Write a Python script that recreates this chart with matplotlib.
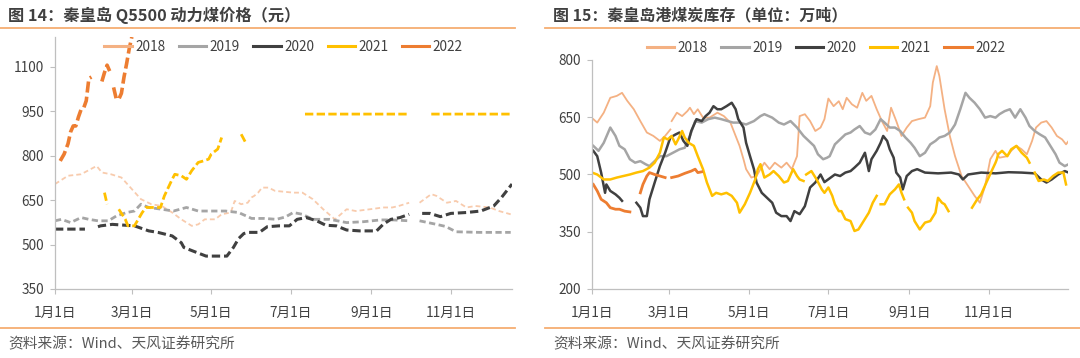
import numpy as np
import matplotlib
matplotlib.use('Agg')
import matplotlib.pyplot as plt
from matplotlib.lines import Line2D

nan = np.nan

# ---------------- data ----------------
years = ['2018', '2019', '2020', '2021', '2022']
month_ticks = [0, 59, 120, 181, 243, 304]
month_labels = ['1月1日', '3月1日', '5月1日', '7月1日', '9月1日', '11月1日']
left_yticks = [350, 500, 650, 800, 950, 1100]
right_yticks = [200, 350, 500, 650, 800]

# Left: Qinhuangdao Q5500 thermal coal price (day of year, yuan)
L2018_x = [0, 10, 20, 32, 36, 43, 51, 58, 66, 74, 82, 90, 97, 105, 110, 115, 123, 128, 135, 138,
           143, 148, 151, 153, 156, 159, 164, 169, 176, 183, 190, 198, 206, 215, 224, 231, 242, 252, 259, 264,
           272, 273, 280, 289, 293, 301, 308, 316, 323, 334, 341, 350]
L2018_y = [704, 732, 737, 765, 743, 737, 726, 692, 653, 636, 630, 608, 585, 563, 568, 585, 585, 602, 608, 647,
           636, 641, 659, 664, 675, 692, 692, 681, 678, 675, 675, 653, 619, 585, 619, 613, 619, 625, 625, 630,
           641, nan, 641, 670, 664, 641, 647, 625, 630, 625, 613, 602]
L2019_x = [0, 5, 12, 20, 26, 33, 41, 47, 55, 61, 66, 72, 82, 91, 101, 110, 120, 131, 141, 151,
           161, 170, 177, 183, 190, 198, 211, 224, 237, 250, 260, 272, 273, 280, 293, 300, 308, 326, 350]
L2019_y = [580, 585, 574, 591, 585, 580, 580, 596, 608, 613, 636, 625, 619, 613, 625, 613, 613, 613, 608, 588,
           588, 585, 593, 608, 602, 585, 585, 574, 577, 583, 583, 580, nan, 580, 568, 561, 543, 541, 541]
L2020_x = [0, 23, 24, 33, 35, 44, 61, 72, 79, 90, 97, 99, 106, 116, 132, 137, 141, 145, 148, 157,
           163, 172, 180, 186, 193, 201, 208, 216, 224, 234, 247, 252, 258, 265, 272, 273, 282, 288, 296, 304,
           316, 327, 337, 343, 351]
L2020_y = [552, 552, nan, 560, 563, 568, 563, 546, 541, 529, 506, 490, 478, 461, 461, 490, 520, 537, 541, 541,
           560, 563, 563, 585, 591, 580, 565, 563, 549, 546, 546, 568, 585, 591, 602, nan, 605, 605, 594, 605,
           608, 613, 630, 659, 704]
L2021_x = [38, 40, 41, 49, 54, 56, 61, 67, 70, 81, 84, 90, 92, 97, 101, 105, 110, 114, 118, 120,
           125, 128, 129, 143, 147, 148, 192, 272, 273, 289, 353]
L2021_y = [675, 636, nan, 619, 585, 563, 563, 608, 625, 625, 664, 720, 737, 732, 720, 749, 777, 782, 788, 805,
           822, 861, nan, 872, 839, nan, 940, 940, nan, 940, 940]
L2022_x = [4, 7, 10, 12, 14, 16, 18, 20, 22, 24, 26, 28, 30, 36, 38, 40, 42, 43, 45, 47,
           49, 51, 53, 55, 57, 59]
L2022_y = [782, 805, 840, 880, 900, 900, 930, 955, 960, 985, 1060, 1065, nan, 1050, 1080, 1105, 1085, nan, 1030, 992,
           990, 1010, 1065, 1110, 1160, 1200]

# Right: Qinhuangdao port coal stock (day of year, 10k tonnes)
R2018_x = [1, 4, 9, 14, 19, 23, 27, 32, 37, 42, 47, 52, 56, 60, 60.5, 61, 65, 69, 73, 75,
           78, 81, 85, 90, 96, 101, 106, 110, 113, 116, 118, 122, 126, 129, 132, 136, 140, 145, 149, 153,
           157, 159, 163, 167, 171, 175, 178, 181, 185, 189, 192, 195, 199, 203, 207, 210, 214, 218, 222, 226,
           229, 233, 237, 241, 245, 250, 255, 259, 261, 264, 266, 270, 274, 278, 283, 288, 293, 297, 301, 305,
           309, 312, 318, 321, 325, 329, 333, 337, 340, 344, 348, 352, 356, 360, 363, 365]
R2018_y = [645, 636, 662, 701, 706, 714, 693, 671, 640, 610, 601, 588, 601, 618, nan, 640, 662, 653, 666, 675,
           658, 671, 649, 649, 662, 653, 636, 601, 575, 540, 514, 492, 496, 514, 531, 514, 531, 518, 531, 514,
           548, 653, 658, 640, 614, 623, 645, 699, 679, 692, 671, 701, 684, 675, 714, 693, 706, 671, 640, 614,
           675, 640, 601, 623, 640, 645, 649, 679, 741, 784, 758, 671, 601, 548, 496, 470, 444, 426, 470, 540,
           562, 544, 548, 562, 575, 566, 553, 588, 623, 636, 640, 623, 601, 592, 579, 588]
R2019_x = [1, 5, 9, 14, 18, 21, 25, 29, 33, 37, 41, 44, 48, 52, 57, 62, 67, 71, 75, 79,
           84, 89, 94, 99, 104, 108, 113, 118, 124, 129, 132, 138, 143, 147, 152, 157, 162, 166, 170, 173,
           177, 180, 182, 186, 190, 194, 198, 201, 205, 209, 213, 217, 221, 224, 228, 232, 236, 240, 244, 247,
           251, 255, 259, 263, 266, 270, 274, 278, 282, 286, 289, 293, 297, 301, 305, 309, 312, 316, 320, 324,
           328, 332, 335, 339, 343, 347, 351, 355, 358, 362, 365]
R2019_y = [575, 562, 583, 623, 601, 575, 566, 540, 531, 535, 527, 522, 535, 548, 548, 557, 566, 570, 601, 640,
           636, 645, 649, 645, 640, 636, 636, 631, 640, 653, 658, 649, 636, 631, 640, 623, 601, 588, 575, 553,
           540, 544, 548, 579, 592, 605, 610, 618, 627, 610, 605, 618, 645, 636, 623, 623, 614, 597, 583, 570,
           548, 557, 579, 588, 597, 601, 610, 631, 671, 714, 701, 688, 671, 649, 653, 649, 658, 666, 671, 649,
           671, 649, 627, 614, 605, 597, 575, 553, 531, 522, 527]
R2020_x = [1, 4, 7, 10, 11, 14, 18, 21, 23, 24, 34, 37, 39, 42, 44, 48, 52, 56, 60, 64,
           67, 70, 73, 76, 80, 84, 87, 90, 93, 96, 99, 103, 107, 110, 112, 116, 118, 121, 124, 126,
           130, 134, 138, 141, 145, 149, 152, 155, 159, 163, 167, 171, 175, 178, 182, 186, 190, 194, 198, 201,
           205, 209, 212, 214, 218, 221, 223, 226, 228, 231, 233, 236, 238, 241, 245, 249, 255, 265, 275, 281,
           284, 288, 298, 309, 319, 329, 339, 344, 348, 352, 357, 362, 365]
R2020_y = [562, 548, 505, 452, 474, 457, 448, 439, 431, nan, 426, 413, 391, 391, 435, 479, 522, 557, 597, 605,
           610, 588, 575, 614, 645, 640, 653, 662, 679, 671, 671, 679, 688, 671, 645, 623, 583, 548, 514, 479,
           452, 439, 426, 400, 391, 391, 378, 404, 396, 417, 466, 479, 500, 480, 490, 500, 496, 505, 509, 518,
           531, 557, 509, 540, 562, 583, 601, 588, 566, 544, 505, 492, 461, 496, 509, 514, 505, 503, 505, 500,
           487, 500, 505, 503, 506, 505, 503, 487, 479, 487, 500, 509, 505]
R2021_x = [0, 4, 9, 14, 19, 24, 29, 34, 39, 44, 48, 52, 55, 58, 61, 64, 66, 69, 71, 74,
           78, 81, 85, 88, 92, 95, 99, 103, 107, 111, 113, 117, 121, 125, 127, 129, 132, 136, 139, 143,
           147, 150, 154, 157, 159, 162, 163, 164, 168, 172, 176, 178, 181, 184, 186, 189, 191, 194, 198, 201,
           204, 208, 212, 215, 218, 219, 221, 224, 228, 232, 235, 237, 239, 240, 242, 245, 247, 251, 255, 259,
           263, 265, 268, 270, 273, 274, 291, 295, 298, 302, 306, 309, 310, 311, 314, 318, 321, 325, 329, 333,
           335, 337, 339, 342, 346, 349, 353, 357, 361, 363]
R2021_y = [505, 500, 487, 487, 492, 496, 500, 505, 509, 518, 531, 557, 597, 592, 601, 579, 592, 614, 597, 583,
           575, 548, 514, 479, 444, 452, 448, 452, 444, 426, 400, 422, 452, 487, 514, 527, 492, 500, 509, 496,
           479, 483, 514, 496, 487, 483, nan, 500, 509, 487, 461, 452, 466, 444, 422, 404, 404, 383, 378, 352,
           356, 378, 400, 426, 444, nan, 422, 422, 448, 461, 474, 452, 435, nan, 413, 400, 378, 356, 374, 378,
           400, 439, 426, 422, 404, nan, 413, 435, 448, 479, 509, 531, 540, 553, 562, 548, 566, 575, 557, 544,
           531, nan, 505, 483, 487, 483, 496, 505, 505, 474]
R2022_x = [1, 4, 7, 11, 14, 18, 21, 25, 29, 30, 37, 39, 42, 44, 48, 52, 56, 58, 61, 66,
           71, 76, 79, 81, 84]
R2022_y = [474, 457, 435, 426, 413, 409, 409, 404, 402, nan, 452, 474, 496, 505, 500, 496, 492, nan, 492, 496,
           503, 509, 514, 505, 507]

# ---------------- style ----------------
plt.rcParams['font.family'] = ['Noto Sans CJK SC', 'DejaVu Sans']
plt.rcParams['lines.scale_dashes'] = False

W, H = 1080, 358
fig = plt.figure(figsize=(W / 100, H / 100), dpi=100)


def ax_at(x0, y0, x1, y1):
    return fig.add_axes([x0 / W, 1 - y1 / H, (x1 - x0) / W, (y1 - y0) / H])


axL = ax_at(55, 37, 512, 289)
axR = ax_at(592, 60, 1068, 289)

C18L, C18R, C19, C20, C21, C22 = '#F8CBAD', '#F4B183', '#A5A5A5', '#404040', '#FFC000', '#ED7D31'
AX_C = '#BFBFBF'
TXT_C = '#404040'

# Left (dashed lines)
axL.plot(L2018_x, L2018_y, color=C18L, lw=1.3, dashes=(3.5, 2.2))
axL.plot(L2019_x, L2019_y, color=C19, lw=2.0, dashes=(4.5, 2.5))
axL.plot(L2020_x, L2020_y, color=C20, lw=2.2, dashes=(6, 2.8))
axL.plot(L2021_x, L2021_y, color=C21, lw=2.0, dashes=(6, 2.4))
axL.plot(L2022_x, L2022_y, color=C22, lw=2.6, dashes=(8, 3))
axL.set_ylim(350, 1200)
axL.set_xlim(0, 351)
axL.set_yticks(left_yticks)

# Right (solid lines)
axR.plot(R2018_x, R2018_y, color=C18R, lw=1.3)
axR.plot(R2019_x, R2019_y, color=C19, lw=1.8)
axR.plot(R2020_x, R2020_y, color=C20, lw=1.8)
axR.plot(R2021_x, R2021_y, color=C21, lw=1.8)
axR.plot(R2022_x, R2022_y, color=C22, lw=2.0)
axR.set_ylim(200, 800)
axR.set_xlim(0, 364.5)
axR.set_yticks(right_yticks)

for ax in (axL, axR):
    ax.spines['top'].set_visible(False)
    ax.spines['right'].set_visible(False)
    for s in ('left', 'bottom'):
        ax.spines[s].set_color(AX_C)
        ax.spines[s].set_linewidth(0.9)
    ax.set_xticks(month_ticks)
    ax.set_xticklabels(month_labels)
    ax.tick_params(axis='both', colors=AX_C, labelcolor=TXT_C, labelsize=9.8, length=3.5, width=0.8)
    ax.tick_params(axis='x', pad=8.5)
    ax.tick_params(axis='y', pad=4.5)
    ax.set_facecolor('none')

# Legends
handle_cols = [C18R, C19, C20, C21, C22]
for cx, cy in ((283.5, 47), (826, 48)):
    handles = [Line2D([], [], color=c, lw=2.2) for c in handle_cols]
    fig.legend(handles, years, ncol=5, loc='center', bbox_to_anchor=(cx / W, 1 - cy / H),
               frameon=False, fontsize=9.8, handlelength=2.0, handletextpad=0.25,
               columnspacing=1.0, borderpad=0, borderaxespad=0, labelcolor=TXT_C)

# Titles, separators, sources
fig.text(8 / W, 1 - 15 / H, '图 14：秦皇岛 Q5500 动力煤价格（元）', fontsize=11.7, fontweight='bold',
         color=TXT_C, va='center', ha='left')
fig.text(553 / W, 1 - 15 / H, '图 15：秦皇岛港煤炭库存（单位：万吨）', fontsize=11.5, fontweight='bold',
         color=TXT_C, va='center', ha='left')
SEP_C = '#F6AE72'
for (a, b) in ((0, 515), (545, 1080)):
    for yy in (28, 328):
        fig.add_artist(Line2D([a / W, b / W], [1 - yy / H, 1 - yy / H], color=SEP_C, lw=1.3))
fig.text(8 / W, 1 - 344 / H, '资料来源：Wind、天风证券研究所', fontsize=10.6, color='#595959', va='center')
fig.text(553 / W, 1 - 344 / H, '资料来源：Wind、天风证券研究所', fontsize=10.6, color='#595959', va='center')

fig.savefig('out.png', dpi=100, facecolor='white')
